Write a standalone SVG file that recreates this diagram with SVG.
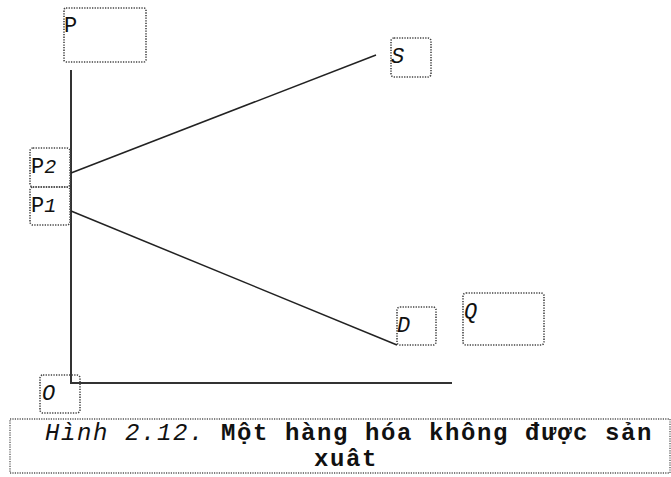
<svg xmlns="http://www.w3.org/2000/svg" width="671" height="477" viewBox="0 0 671 477">
<style>
.box{fill:none;stroke:#444;stroke-width:1.6;stroke-dasharray:1.3 1.3}
.cap{fill:none;stroke:#555;stroke-width:1.3;stroke-dasharray:1.2 1.2}
.ax{stroke:#333;stroke-width:2;fill:none}
.ln{stroke:#222;stroke-width:1.5;fill:none}
text{font-family:"Liberation Mono","Courier New",monospace;fill:#111}
.lb{font-size:22px}
.it{font-style:italic}
.c{font-size:24px;letter-spacing:1.6px}
</style>
<rect width="671" height="477" fill="#fff"/>
<g id="connectors">
<line class="ax" x1="71" y1="70" x2="71" y2="383"/>
<line class="ax" x1="70" y1="383" x2="452" y2="383"/>
<line class="ln" x1="71" y1="173" x2="376" y2="55"/>
<line class="ln" x1="71" y1="211" x2="397" y2="345"/>
</g>
<g id="node-P"><rect class="box" x="64" y="8" width="82" height="54" rx="2"/><text class="lb" x="64" y="32">P</text></g>
<g id="node-P2"><rect class="box" x="30" y="148" width="40" height="39" rx="3"/><text class="lb" x="31" y="173">P<tspan class="it" font-size="20">2</tspan></text></g>
<g id="node-P1"><rect class="box" x="30" y="187" width="40" height="38" rx="3"/><text class="lb" x="31" y="212">P<tspan class="it" font-size="20">1</tspan></text></g>
<g id="node-S"><rect class="box" x="391" y="38" width="40" height="39" rx="3"/><text class="lb it" x="391" y="63">S</text></g>
<g id="node-D"><rect class="box" x="397" y="307" width="39" height="38" rx="3"/><text class="lb it" x="397" y="332">D</text></g>
<g id="node-Q"><rect class="box" x="463" y="293" width="81" height="52" rx="3"/><text class="lb it" x="464" y="318">Q</text></g>
<g id="node-O"><rect class="box" x="40" y="375" width="40" height="38" rx="3"/><text class="lb it" x="42" y="400">O</text></g>
<g id="caption">
<rect class="cap" x="10" y="419" width="660" height="54"/>
<text class="c" x="45" y="440"><tspan class="it">Hình 2.12.</tspan><tspan font-weight="bold"> Một hàng hóa không được sản</tspan></text>
<text class="c" x="346" y="466" text-anchor="middle" font-weight="bold">xuât</text>
</g>
</svg>
